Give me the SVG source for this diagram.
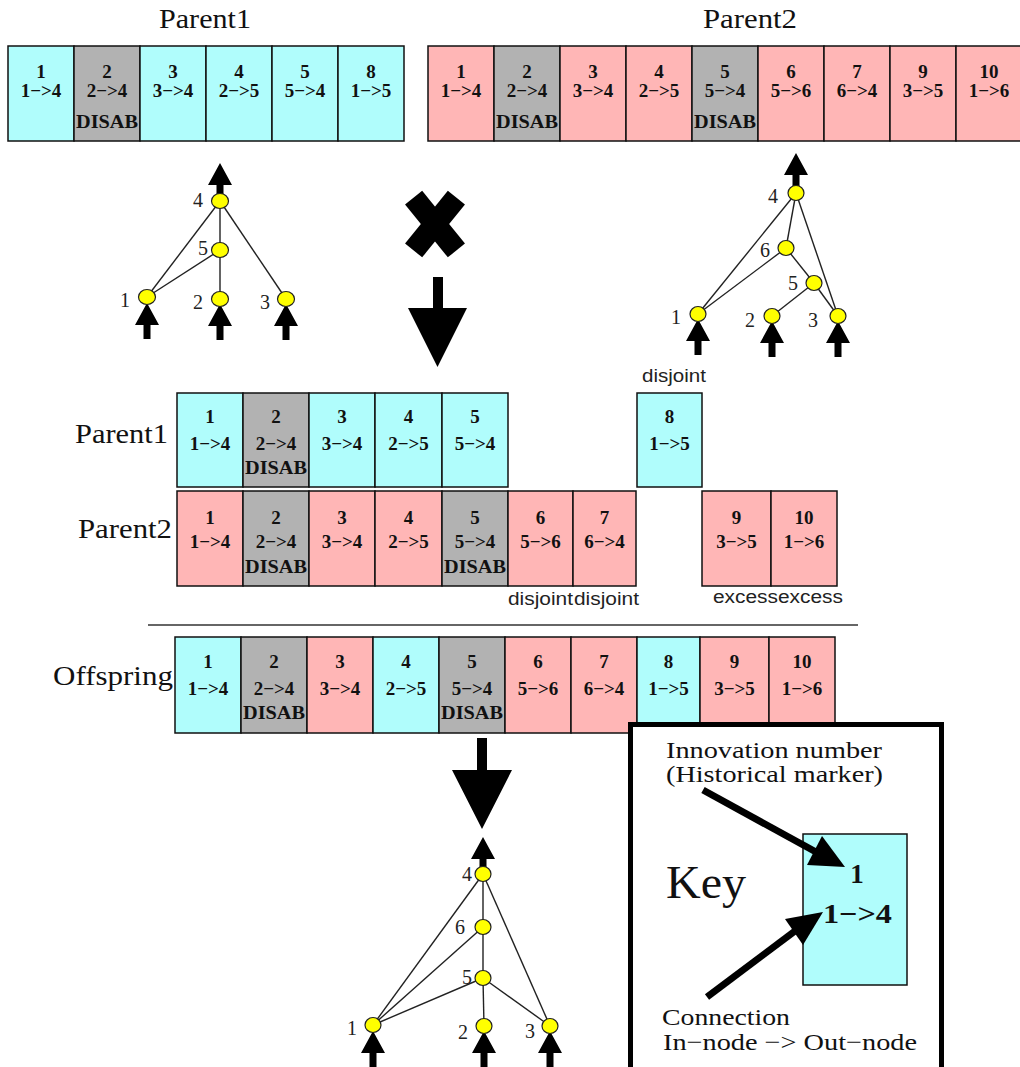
<svg xmlns="http://www.w3.org/2000/svg" xmlns:xlink="http://www.w3.org/1999/xlink" width="1020" height="1067" viewBox="0 0 1020 1067">
<style>
.cell{stroke:#111;stroke-width:1.5}
.cy{fill:#b0fdfc}
.pk{fill:#ffb6b6}
.gr{fill:#b2b2b2}
.t{font-family:"Liberation Serif","Times New Roman",serif;font-weight:bold;font-size:19px;fill:#111;text-anchor:middle}
.ttl{font-family:"Liberation Serif","Times New Roman",serif;font-size:27px;fill:#111}
.lab{font-family:"Liberation Serif","Times New Roman",serif;font-size:20px;fill:#222;text-anchor:middle}
.sans{font-family:"Liberation Sans",Arial,sans-serif;font-size:18px;fill:#222}
.edge{stroke:#222;stroke-width:1.4;fill:none}
.node{fill:#ffff00;stroke:#222;stroke-width:1.2}
.key{font-family:"Liberation Serif","Times New Roman",serif;font-size:24px;fill:#111}
</style>
<defs>
<path id="upArrow" d="M0,0 L12,22 L3.5,22 L3.5,36 L-3.5,36 L-3.5,22 L-12,22 Z" fill="#000"/>
</defs>

<!-- titles -->
<text class="ttl" x="159" y="28" textLength="92" lengthAdjust="spacingAndGlyphs">Parent1</text>
<text class="ttl" x="703" y="28" textLength="94" lengthAdjust="spacingAndGlyphs">Parent2</text>

<!-- top Parent1 genome -->
<g id="top-p1">
<g id="tp1-1"><rect class="cell cy" x="8" y="46" width="66" height="95"/><text class="t" x="41" y="78">1</text><text class="t" x="41" y="97">1−&gt;4</text></g>
<g id="tp1-2"><rect class="cell gr" x="74" y="46" width="66" height="95"/><text class="t" x="107" y="78">2</text><text class="t" x="107" y="97">2−&gt;4</text><text class="t" x="107" y="128" textLength="62" lengthAdjust="spacingAndGlyphs">DISAB</text></g>
<g id="tp1-3"><rect class="cell cy" x="140" y="46" width="66" height="95"/><text class="t" x="173" y="78">3</text><text class="t" x="173" y="97">3−&gt;4</text></g>
<g id="tp1-4"><rect class="cell cy" x="206" y="46" width="66" height="95"/><text class="t" x="239" y="78">4</text><text class="t" x="239" y="97">2−&gt;5</text></g>
<g id="tp1-5"><rect class="cell cy" x="272" y="46" width="66" height="95"/><text class="t" x="305" y="78">5</text><text class="t" x="305" y="97">5−&gt;4</text></g>
<g id="tp1-8"><rect class="cell cy" x="338" y="46" width="66" height="95"/><text class="t" x="371" y="78">8</text><text class="t" x="371" y="97">1−&gt;5</text></g>
</g>

<!-- top Parent2 genome -->
<g id="top-p2">
<g id="tp2-1"><rect class="cell pk" x="428" y="46" width="66" height="95"/><text class="t" x="461" y="78">1</text><text class="t" x="461" y="97">1−&gt;4</text></g>
<g id="tp2-2"><rect class="cell gr" x="494" y="46" width="66" height="95"/><text class="t" x="527" y="78">2</text><text class="t" x="527" y="97">2−&gt;4</text><text class="t" x="527" y="128" textLength="62" lengthAdjust="spacingAndGlyphs">DISAB</text></g>
<g id="tp2-3"><rect class="cell pk" x="560" y="46" width="66" height="95"/><text class="t" x="593" y="78">3</text><text class="t" x="593" y="97">3−&gt;4</text></g>
<g id="tp2-4"><rect class="cell pk" x="626" y="46" width="66" height="95"/><text class="t" x="659" y="78">4</text><text class="t" x="659" y="97">2−&gt;5</text></g>
<g id="tp2-5"><rect class="cell gr" x="692" y="46" width="66" height="95"/><text class="t" x="725" y="78">5</text><text class="t" x="725" y="97">5−&gt;4</text><text class="t" x="725" y="128" textLength="62" lengthAdjust="spacingAndGlyphs">DISAB</text></g>
<g id="tp2-6"><rect class="cell pk" x="758" y="46" width="66" height="95"/><text class="t" x="791" y="78">6</text><text class="t" x="791" y="97">5−&gt;6</text></g>
<g id="tp2-7"><rect class="cell pk" x="824" y="46" width="66" height="95"/><text class="t" x="857" y="78">7</text><text class="t" x="857" y="97">6−&gt;4</text></g>
<g id="tp2-9"><rect class="cell pk" x="890" y="46" width="66" height="95"/><text class="t" x="923" y="78">9</text><text class="t" x="923" y="97">3−&gt;5</text></g>
<g id="tp2-10"><rect class="cell pk" x="956" y="46" width="66" height="95"/><text class="t" x="989" y="78">10</text><text class="t" x="989" y="97">1−&gt;6</text></g>
</g>

<!-- Parent1 network -->
<g id="net1-connectors">
<use xlink:href="#upArrow" href="#upArrow" x="220" y="163"/>
<use xlink:href="#upArrow" href="#upArrow" x="147" y="303"/>
<use xlink:href="#upArrow" href="#upArrow" x="220" y="304"/>
<use xlink:href="#upArrow" href="#upArrow" x="286" y="304"/>
<line class="edge" x1="220" y1="201" x2="147" y2="297"/>
<line class="edge" x1="220" y1="201" x2="286" y2="299"/>
<line class="edge" x1="220" y1="201" x2="220" y2="250"/>
<line class="edge" x1="220" y1="250" x2="220" y2="299"/>
<line class="edge" x1="220" y1="250" x2="147" y2="297"/>
</g>
<g id="net1-n4"><ellipse class="node" cx="220" cy="201" rx="8.5" ry="7.5"/><text class="lab" x="198" y="207">4</text></g>
<g id="net1-n5"><ellipse class="node" cx="220" cy="250" rx="8.5" ry="7.5"/><text class="lab" x="203" y="255">5</text></g>
<g id="net1-n1"><ellipse class="node" cx="147" cy="297" rx="8.5" ry="7.5"/><text class="lab" x="125" y="307">1</text></g>
<g id="net1-n2"><ellipse class="node" cx="220" cy="299" rx="8.5" ry="7.5"/><text class="lab" x="198" y="309">2</text></g>
<g id="net1-n3"><ellipse class="node" cx="286" cy="299" rx="8.5" ry="7.5"/><text class="lab" x="265" y="309">3</text></g>

<!-- Parent2 network -->
<g id="net2-connectors">
<use xlink:href="#upArrow" href="#upArrow" x="796" y="153"/>
<use xlink:href="#upArrow" href="#upArrow" x="698" y="319"/>
<use xlink:href="#upArrow" href="#upArrow" x="772" y="321"/>
<use xlink:href="#upArrow" href="#upArrow" x="838" y="321"/>
<line class="edge" x1="796" y1="193" x2="698" y2="314"/>
<line class="edge" x1="796" y1="193" x2="786" y2="248"/>
<line class="edge" x1="796" y1="193" x2="838" y2="316"/>
<line class="edge" x1="786" y1="248" x2="698" y2="314"/>
<line class="edge" x1="786" y1="248" x2="814" y2="283"/>
<line class="edge" x1="814" y1="283" x2="772" y2="316"/>
<line class="edge" x1="814" y1="283" x2="838" y2="316"/>
</g>
<g id="net2-n4"><ellipse class="node" cx="796" cy="193" rx="8" ry="7.5"/><text class="lab" x="773" y="203">4</text></g>
<g id="net2-n6"><ellipse class="node" cx="786" cy="248" rx="8" ry="7.5"/><text class="lab" x="765" y="257">6</text></g>
<g id="net2-n5"><ellipse class="node" cx="814" cy="283" rx="8" ry="7.5"/><text class="lab" x="793" y="290">5</text></g>
<g id="net2-n1"><ellipse class="node" cx="698" cy="314" rx="8" ry="7.5"/><text class="lab" x="676" y="324">1</text></g>
<g id="net2-n2"><ellipse class="node" cx="772" cy="316" rx="8" ry="7.5"/><text class="lab" x="750" y="327">2</text></g>
<g id="net2-n3"><ellipse class="node" cx="838" cy="316" rx="8" ry="7.5"/><text class="lab" x="813" y="327">3</text></g>

<!-- crossover symbol and arrow -->
<g id="cross">
<rect x="-34" y="-11" width="68" height="22" fill="#000" transform="translate(435,224) rotate(51)"/>
<rect x="-34" y="-11" width="68" height="22" fill="#000" transform="translate(435,224) rotate(-51)"/>
</g>
<g id="arrow-down-1"><path d="M433,277 L443,277 L443,308 L467,308 L437.5,367 L408,308 L433,308 Z" fill="#000"/></g>

<!-- middle aligned genomes -->
<text class="ttl" x="75" y="443" textLength="93" lengthAdjust="spacingAndGlyphs">Parent1</text>
<text class="ttl" x="78" y="538" textLength="94" lengthAdjust="spacingAndGlyphs">Parent2</text>
<text class="sans" x="642" y="382" textLength="64" lengthAdjust="spacingAndGlyphs">disjoint</text>

<g id="mid-p1">
<g id="mp1-1"><rect class="cell cy" x="177" y="393" width="66" height="94"/><text class="t" x="210" y="423">1</text><text class="t" x="210" y="450">1−&gt;4</text></g>
<g id="mp1-2"><rect class="cell gr" x="243" y="393" width="66" height="94"/><text class="t" x="276" y="423">2</text><text class="t" x="276" y="450">2−&gt;4</text><text class="t" x="276" y="474" textLength="62" lengthAdjust="spacingAndGlyphs">DISAB</text></g>
<g id="mp1-3"><rect class="cell cy" x="309" y="393" width="66" height="94"/><text class="t" x="342" y="423">3</text><text class="t" x="342" y="450">3−&gt;4</text></g>
<g id="mp1-4"><rect class="cell cy" x="375" y="393" width="67" height="94"/><text class="t" x="408.5" y="423">4</text><text class="t" x="408.5" y="450">2−&gt;5</text></g>
<g id="mp1-5"><rect class="cell cy" x="442" y="393" width="66" height="94"/><text class="t" x="475" y="423">5</text><text class="t" x="475" y="450">5−&gt;4</text></g>
<g id="mp1-8"><rect class="cell cy" x="637" y="393" width="65" height="94"/><text class="t" x="669.5" y="423">8</text><text class="t" x="669.5" y="450">1−&gt;5</text></g>
</g>

<g id="mid-p2">
<g id="mp2-1"><rect class="cell pk" x="177" y="491" width="66" height="95"/><text class="t" x="210" y="524">1</text><text class="t" x="210" y="548">1−&gt;4</text></g>
<g id="mp2-2"><rect class="cell gr" x="243" y="491" width="66" height="95"/><text class="t" x="276" y="524">2</text><text class="t" x="276" y="548">2−&gt;4</text><text class="t" x="276" y="573" textLength="62" lengthAdjust="spacingAndGlyphs">DISAB</text></g>
<g id="mp2-3"><rect class="cell pk" x="309" y="491" width="66" height="95"/><text class="t" x="342" y="524">3</text><text class="t" x="342" y="548">3−&gt;4</text></g>
<g id="mp2-4"><rect class="cell pk" x="375" y="491" width="67" height="95"/><text class="t" x="408.5" y="524">4</text><text class="t" x="408.5" y="548">2−&gt;5</text></g>
<g id="mp2-5"><rect class="cell gr" x="442" y="491" width="66" height="95"/><text class="t" x="475" y="524">5</text><text class="t" x="475" y="548">5−&gt;4</text><text class="t" x="475" y="573" textLength="62" lengthAdjust="spacingAndGlyphs">DISAB</text></g>
<g id="mp2-6"><rect class="cell pk" x="508" y="491" width="65" height="95"/><text class="t" x="540.5" y="524">6</text><text class="t" x="540.5" y="548">5−&gt;6</text></g>
<g id="mp2-7"><rect class="cell pk" x="573" y="491" width="63" height="95"/><text class="t" x="604.5" y="524">7</text><text class="t" x="604.5" y="548">6−&gt;4</text></g>
<g id="mp2-9"><rect class="cell pk" x="702" y="491" width="69" height="95"/><text class="t" x="736.5" y="524">9</text><text class="t" x="736.5" y="548">3−&gt;5</text></g>
<g id="mp2-10"><rect class="cell pk" x="771" y="491" width="66" height="95"/><text class="t" x="804" y="524">10</text><text class="t" x="804" y="548">1−&gt;6</text></g>
</g>

<text class="sans" x="508" y="605" textLength="65" lengthAdjust="spacingAndGlyphs">disjoint</text>
<text class="sans" x="574" y="605" textLength="65" lengthAdjust="spacingAndGlyphs">disjoint</text>
<text class="sans" x="713" y="603" textLength="65" lengthAdjust="spacingAndGlyphs">excess</text>
<text class="sans" x="778" y="603" textLength="65" lengthAdjust="spacingAndGlyphs">excess</text>

<line x1="148" y1="625" x2="858" y2="625" stroke="#333" stroke-width="1.5"/>

<!-- offspring -->
<text class="ttl" x="53" y="685" textLength="120" lengthAdjust="spacingAndGlyphs">Offspring</text>
<g id="offspring">
<g id="of-1"><rect class="cell cy" x="175" y="637" width="66" height="96"/><text class="t" x="208" y="668">1</text><text class="t" x="208" y="695">1−&gt;4</text></g>
<g id="of-2"><rect class="cell gr" x="241" y="637" width="66" height="96"/><text class="t" x="274" y="668">2</text><text class="t" x="274" y="695">2−&gt;4</text><text class="t" x="274" y="719" textLength="62" lengthAdjust="spacingAndGlyphs">DISAB</text></g>
<g id="of-3"><rect class="cell pk" x="307" y="637" width="66" height="96"/><text class="t" x="340" y="668">3</text><text class="t" x="340" y="695">3−&gt;4</text></g>
<g id="of-4"><rect class="cell cy" x="373" y="637" width="66" height="96"/><text class="t" x="406" y="668">4</text><text class="t" x="406" y="695">2−&gt;5</text></g>
<g id="of-5"><rect class="cell gr" x="439" y="637" width="66" height="96"/><text class="t" x="472" y="668">5</text><text class="t" x="472" y="695">5−&gt;4</text><text class="t" x="472" y="719" textLength="62" lengthAdjust="spacingAndGlyphs">DISAB</text></g>
<g id="of-6"><rect class="cell pk" x="505" y="637" width="66" height="96"/><text class="t" x="538" y="668">6</text><text class="t" x="538" y="695">5−&gt;6</text></g>
<g id="of-7"><rect class="cell pk" x="571" y="637" width="66" height="96"/><text class="t" x="604" y="668">7</text><text class="t" x="604" y="695">6−&gt;4</text></g>
<g id="of-8"><rect class="cell cy" x="637" y="637" width="63" height="96"/><text class="t" x="668.5" y="668">8</text><text class="t" x="668.5" y="695">1−&gt;5</text></g>
<g id="of-9"><rect class="cell pk" x="700" y="637" width="69" height="96"/><text class="t" x="734.5" y="668">9</text><text class="t" x="734.5" y="695">3−&gt;5</text></g>
<g id="of-10"><rect class="cell pk" x="769" y="637" width="66" height="96"/><text class="t" x="802" y="668">10</text><text class="t" x="802" y="695">1−&gt;6</text></g>
</g>

<g id="arrow-down-2"><path d="M477,738 L487,738 L487,770 L512,770 L482,829 L452,770 L477,770 Z" fill="#000"/></g>

<!-- offspring network -->
<g id="net3-connectors">
<use xlink:href="#upArrow" href="#upArrow" x="483" y="837"/>
<use xlink:href="#upArrow" href="#upArrow" x="373" y="1031"/>
<use xlink:href="#upArrow" href="#upArrow" x="484" y="1031"/>
<use xlink:href="#upArrow" href="#upArrow" x="550" y="1031"/>
<line class="edge" x1="483" y1="874" x2="373" y2="1025"/>
<line class="edge" x1="483" y1="874" x2="483" y2="927"/>
<line class="edge" x1="483" y1="874" x2="550" y2="1026"/>
<line class="edge" x1="483" y1="927" x2="373" y2="1025"/>
<line class="edge" x1="483" y1="927" x2="483" y2="978"/>
<line class="edge" x1="483" y1="978" x2="373" y2="1025"/>
<line class="edge" x1="483" y1="978" x2="484" y2="1026"/>
<line class="edge" x1="483" y1="978" x2="550" y2="1026"/>
</g>
<g id="net3-n4"><ellipse class="node" cx="483" cy="874" rx="8" ry="7.5"/><text class="lab" x="467" y="881">4</text></g>
<g id="net3-n6"><ellipse class="node" cx="483" cy="927" rx="8" ry="7.5"/><text class="lab" x="460" y="934">6</text></g>
<g id="net3-n5"><ellipse class="node" cx="483" cy="978" rx="8" ry="7.5"/><text class="lab" x="467" y="984">5</text></g>
<g id="net3-n1"><ellipse class="node" cx="373" cy="1025" rx="8" ry="7.5"/><text class="lab" x="352" y="1035">1</text></g>
<g id="net3-n2"><ellipse class="node" cx="484" cy="1026" rx="8" ry="7.5"/><text class="lab" x="463" y="1039">2</text></g>
<g id="net3-n3"><ellipse class="node" cx="550" cy="1026" rx="8" ry="7.5"/><text class="lab" x="530" y="1038">3</text></g>

<!-- key -->
<g id="key">
<rect x="630.5" y="724.5" width="311" height="360" fill="#fff" stroke="#000" stroke-width="5"/>
<text class="key" x="666" y="758" textLength="216" lengthAdjust="spacingAndGlyphs">Innovation number</text>
<text class="key" x="666" y="782" textLength="217" lengthAdjust="spacingAndGlyphs">(Historical marker)</text>
<text class="key" x="666" y="898" style="font-size:46px" textLength="80" lengthAdjust="spacingAndGlyphs">Key</text>
<g id="key-gene"><rect class="cell cy" x="803" y="834" width="104" height="151"/>
<text class="t" x="857" y="883" style="font-size:27px">1</text>
<text class="t" x="857.5" y="923" style="font-size:27px" textLength="69" lengthAdjust="spacingAndGlyphs">1−&gt;4</text></g>
<text class="key" x="662" y="1025" textLength="128" lengthAdjust="spacingAndGlyphs">Connection</text>
<text class="key" x="663" y="1050" textLength="254" lengthAdjust="spacingAndGlyphs">In−node −&gt; Out−node</text>
<g id="key-arrows">
<line x1="703" y1="790" x2="816" y2="852" stroke="#000" stroke-width="7"/>
<polygon points="845,867 822,836 807,865" fill="#000"/>
<line x1="707" y1="997" x2="795" y2="931" stroke="#000" stroke-width="7"/>
<polygon points="823,912 785,919 803,945" fill="#000"/>
</g>
</g>
</svg>
